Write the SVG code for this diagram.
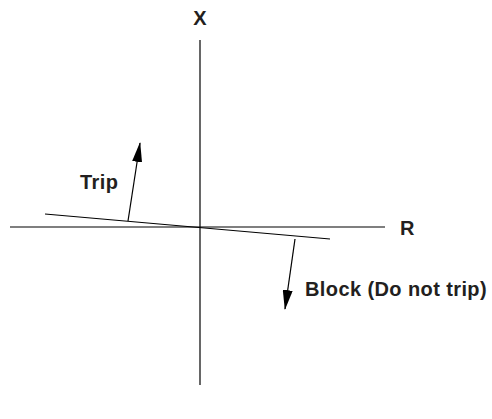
<svg xmlns="http://www.w3.org/2000/svg" width="492" height="419" viewBox="0 0 492 419">
<defs>
<style>
.ln{stroke:#000;stroke-width:1.2;fill:none}
.lbl{font-family:"Liberation Sans",Arial,Helvetica,sans-serif;font-weight:bold;font-size:20px;letter-spacing:0.4px;fill:#231f20}
</style>
<marker id="ah" markerWidth="20" markerHeight="10" refX="19" refY="5" orient="auto" markerUnits="userSpaceOnUse">
<path d="M0,0 L20,5 L0,10 Z" fill="#000"/>
</marker>
</defs>
<rect width="492" height="419" fill="#fff"/>
<g id="axes">
<line class="ln" x1="200" y1="40" x2="200" y2="385"/>
<line class="ln" x1="10" y1="227" x2="385" y2="227"/>
<line class="ln" x1="45" y1="214" x2="330" y2="239"/>
</g>
<g id="connectors">
<line class="ln" x1="128" y1="221" x2="140" y2="143" marker-end="url(#ah)"/>
<line class="ln" x1="295" y1="239" x2="285" y2="309" marker-end="url(#ah)"/>
</g>
<g id="label-x"><text class="lbl" x="200" y="25" text-anchor="middle">X</text></g>
<g id="label-r"><text class="lbl" x="400" y="235">R</text></g>
<g id="label-trip"><text class="lbl" x="80" y="189">Trip</text></g>
<g id="label-block"><text class="lbl" x="305" y="296">Block (Do not trip)</text></g>
</svg>
